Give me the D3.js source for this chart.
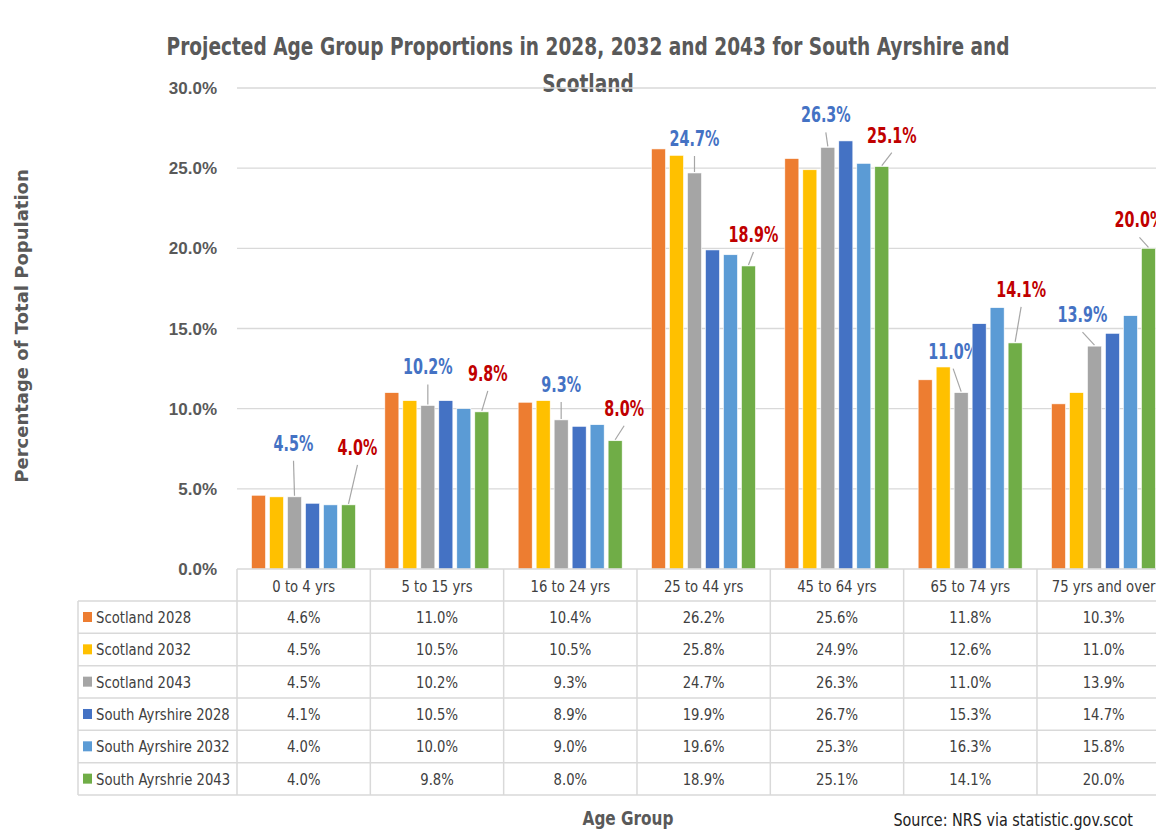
<!DOCTYPE html>
<html>
<head>
<meta charset="utf-8">
<script src="https://cdn.jsdelivr.net/npm/d3@7"></script>
<style>
  body { margin: 0; background: #fff; }
  svg { display: block; }
  .narrow { font-family: "DejaVu Sans Condensed", "Liberation Sans", sans-serif; }
</style>
</head>
<body>
<svg id="chart" width="1156" height="830"></svg>
<script>
// categories and series
var ageGroups = ["0 to 4 yrs", "5 to 15 yrs", "16 to 24 yrs", "25 to 44 yrs", "45 to 64 yrs", "65 to 74 yrs", "75 yrs and over"]
var seriesNames = ["Scotland 2028", "Scotland 2032", "Scotland 2043", "South Ayrshire 2028", "South Ayrshire 2032", "South Ayrshrie 2043"]
var seriesColors = ["#ed7d31", "#ffc000", "#a5a5a5", "#4472c4", "#5b9bd5", "#70ad47"]

var scotland2028 = [4.6, 11.0, 10.4, 26.2, 25.6, 11.8, 10.3]
var scotland2032 = [4.5, 10.5, 10.5, 25.8, 24.9, 12.6, 11.0]
var scotland2043 = [4.5, 10.2, 9.3, 24.7, 26.3, 11.0, 13.9]
var southAyrshire2028 = [4.1, 10.5, 8.9, 19.9, 26.7, 15.3, 14.7]
var southAyrshire2032 = [4.0, 10.0, 9.0, 19.6, 25.3, 16.3, 15.8]
var southAyrshire2043 = [4.0, 9.8, 8.0, 18.9, 25.1, 14.1, 20.0]

var yTicks = [0, 5, 10, 15, 20, 25, 30]

// hand placed callouts (offset from bar top, px) like the original
var calloutGray = [[-1, -46], [0, -31], [0, -28], [0, -27], [-2, -25], [-8, -34], [-12, -24]]
var calloutGreen = [[9, -50], [6, -31], [9, -25], [5, -24], [10, -24], [6, -46], [-9, -21]]

var series = [scotland2028, scotland2032, scotland2043, southAyrshire2028, southAyrshire2032, southAyrshire2043]
var fmt = d => d.toFixed(1) + "%"

var svg = d3.select("#chart")
var left = 237, plotTop = 88, plotBottom = 569
var bandW = 133.33
var x = d3.scaleBand().domain(ageGroups).range([left, left + bandW * ageGroups.length])
var xs = d3.scaleBand().domain(d3.range(seriesNames.length)).range([14.5, 118.5]).paddingInner(0.22)
var y = d3.scaleLinear().domain([0, 30]).range([plotBottom, plotTop])
var lineCol = "#d9d9d9", textCol = "#595959"

// condensed text: place at (px,py) and squeeze horizontally
var squeeze = (px, py, k) => "translate(" + px + "," + py + ") scale(" + k + ",1)"

// title
svg.append("text").attr("class", "narrow")
  .attr("transform", squeeze(588, 55, 0.86))
  .attr("text-anchor", "middle").attr("fill", textCol)
  .style("font-size", "24px").style("font-weight", "bold")
  .text("Projected Age Group Proportions in 2028, 2032 and 2043 for South Ayrshire and")
svg.append("text").attr("class", "narrow")
  .attr("transform", squeeze(588, 92, 0.86))
  .attr("text-anchor", "middle").attr("fill", textCol)
  .style("font-size", "24px").style("font-weight", "bold")
  .text("Scotland")

// gridlines
svg.append("g").selectAll("line").data(yTicks.slice(1)).enter().append("line")
  .attr("x1", left).attr("x2", 1156)
  .attr("y1", d => y(d)).attr("y2", d => y(d))
  .attr("stroke", lineCol).attr("stroke-width", 1.3)

// y axis labels
svg.append("g").selectAll("text").data(yTicks).enter().append("text")
  .attr("x", 217).attr("y", d => y(d) + 6)
  .attr("text-anchor", "end").attr("fill", textCol)
  .style("font-family", "'Liberation Sans', Arial, sans-serif")
  .style("font-size", "17px").style("font-weight", "bold")
  .text(d => d.toFixed(1) + "%")

svg.append("text")
  .attr("transform", "translate(28,326) rotate(-90)")
  .attr("text-anchor", "middle").attr("fill", textCol)
  .style("font-family", "'DejaVu Sans', sans-serif")
  .style("font-size", "18px").style("font-weight", "bold")
  .text("Percentage of Total Population")

// callout labels (drawn under bars, as in the original)
function callouts(si, offsets, color) {
  var g = svg.append("g")
  ageGroups.forEach((a, i) => {
    var v = series[si][i]
    var cx = x(a) + xs(si) + xs.bandwidth() / 2
    var ty = y(v)
    var lx = cx + offsets[i][0], ly = ty + offsets[i][1]
    if (ty - 1 > ly + 11) {
      g.append("line").attr("x1", lx).attr("y1", ly + 10).attr("x2", cx).attr("y2", ty - 1)
        .attr("stroke", "#a6a6a6").attr("stroke-width", 1.2)
    }
    g.append("text").attr("class", "narrow")
      .attr("transform", squeeze(lx, ly, 0.76)).attr("text-anchor", "middle")
      .attr("fill", color).style("font-size", "21px").style("font-weight", "bold")
      .text(fmt(v))
  })
}
callouts(2, calloutGray, "#4472c4")
callouts(5, calloutGreen, "#c00000")

// bars
var groups = svg.append("g").selectAll("g").data(ageGroups).enter().append("g")
  .attr("transform", d => "translate(" + x(d) + ",0)")
groups.selectAll("rect")
  .data((d, i) => series.map((s, si) => ({ si: si, v: s[i] })))
  .enter().append("rect")
  .attr("x", d => xs(d.si))
  .attr("width", xs.bandwidth())
  .attr("y", d => y(d.v))
  .attr("height", d => plotBottom - y(d.v))
  .attr("fill", d => seriesColors[d.si])
  .attr("stroke", "#fff").attr("stroke-width", 0.6)

// data table
var rowH = 32.33, tableTop = 601, tk = 0.89
var tbl = svg.append("g").attr("class", "narrow").style("font-size", "16.5px")
var rowYs = d3.range(seriesNames.length + 1).map(i => tableTop + i * rowH)

tbl.append("line").attr("x1", left).attr("x2", 1156).attr("y1", plotBottom).attr("y2", plotBottom)
  .attr("stroke", lineCol).attr("stroke-width", 1.5)
tbl.selectAll(".hl").data(rowYs).enter().append("line")
  .attr("x1", 78).attr("x2", 1156).attr("y1", d => d).attr("y2", d => d)
  .attr("stroke", lineCol).attr("stroke-width", 1.5)
tbl.append("line").attr("x1", 78).attr("x2", 78).attr("y1", tableTop).attr("y2", rowYs[rowYs.length - 1])
  .attr("stroke", lineCol).attr("stroke-width", 1.5)
tbl.selectAll(".vl").data(ageGroups.concat(["end"])).enter().append("line")
  .attr("x1", (d, i) => left + i * x.step()).attr("x2", (d, i) => left + i * x.step())
  .attr("y1", plotBottom).attr("y2", rowYs[rowYs.length - 1])
  .attr("stroke", lineCol).attr("stroke-width", 1.5)

tbl.selectAll(".hdr").data(ageGroups).enter().append("text")
  .attr("transform", d => squeeze(x(d) + x.bandwidth() / 2, plotBottom + 23, tk))
  .attr("text-anchor", "middle").attr("fill", "#404040").text(d => d)

seriesNames.forEach((name, si) => {
  var ry = rowYs[si]
  tbl.append("rect").attr("x", 83).attr("y", ry + 11).attr("width", 9).attr("height", 10)
    .attr("fill", seriesColors[si])
  tbl.append("text").attr("transform", squeeze(96, ry + 22, tk))
    .attr("fill", "#404040").text(name)
  tbl.selectAll(".v" + si).data(series[si]).enter().append("text")
    .attr("transform", (d, i) => squeeze(x(ageGroups[i]) + x.bandwidth() / 2, ry + 22, tk))
    .attr("text-anchor", "middle").attr("fill", "#404040").text(fmt)
})

// axis title and source
svg.append("text").attr("class", "narrow")
  .attr("transform", squeeze(628, 825, 0.85)).attr("text-anchor", "middle").attr("fill", textCol)
  .style("font-size", "20px").style("font-weight", "bold").text("Age Group")
svg.append("text").attr("class", "narrow")
  .attr("transform", squeeze(1133, 826, 0.94)).attr("text-anchor", "end").attr("fill", "#222")
  .style("font-size", "17px").text("Source: NRS via statistic.gov.scot")
</script>
</body>
</html>
